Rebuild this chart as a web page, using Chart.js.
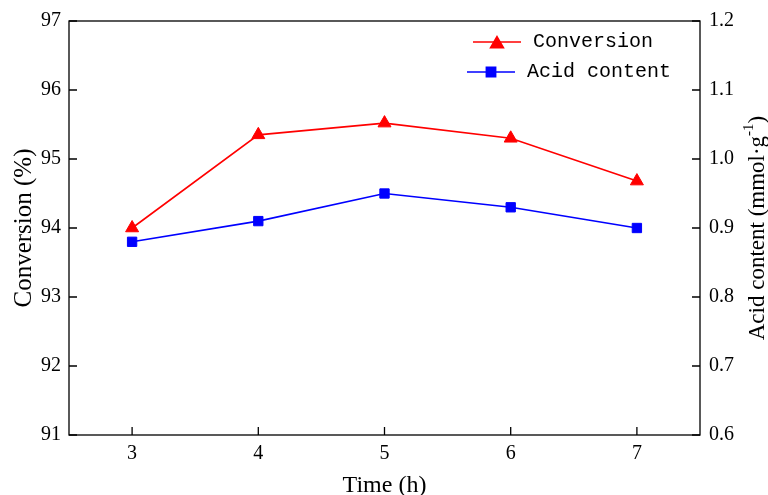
<!DOCTYPE html>
<html><head><meta charset="utf-8">
<script src="https://cdn.jsdelivr.net/npm/chart.js@4/dist/chart.umd.min.js"></script>
<style>html,body{margin:0;padding:0;background:#fff}#wrap{width:768px;height:495px;position:relative}</style>
</head><body><div id="wrap"><canvas id="c"></canvas></div>
<script>
const timeHours = [3, 4, 5, 6, 7];
const conversion = [94.0, 95.35, 95.52, 95.3, 94.68];
const acidContent = [0.88, 0.91, 0.95, 0.93, 0.90];
const xTicks = [3, 4, 5, 6, 7];
const leftTicks = [91, 92, 93, 94, 95, 96, 97];
const rightTicks = [0.6, 0.7, 0.8, 0.9, 1.0, 1.1, 1.2];
const seriesNames = ['Conversion', 'Acid content'];

const SERIF = '"Liberation Serif", "Times New Roman", serif';
const tickFont = {family: SERIF, size: 20};

const framePlugin = {
  id: 'frame',
  afterDraw(chart) {
    const ctx = chart.ctx, a = chart.chartArea;
    const sx = chart.scales.x, sl = chart.scales.y, sr = chart.scales.y1;
    ctx.save();
    ctx.strokeStyle = '#000';
    ctx.lineWidth = 1.3;
    ctx.strokeRect(a.left, a.top, a.right - a.left, a.bottom - a.top);
    const L = 8;
    ctx.beginPath();
    xTicks.forEach(v => { const p = sx.getPixelForValue(v); ctx.moveTo(p, a.bottom); ctx.lineTo(p, a.bottom - L); });
    leftTicks.forEach(v => { const p = sl.getPixelForValue(v); ctx.moveTo(a.left, p); ctx.lineTo(a.left + L, p); });
    rightTicks.forEach(v => { const p = sr.getPixelForValue(v); ctx.moveTo(a.right, p); ctx.lineTo(a.right - L, p); });
    ctx.stroke();

    // axis titles
    ctx.fillStyle = '#000';
    ctx.textAlign = 'center';
    ctx.textBaseline = 'middle';
    ctx.font = '24px ' + SERIF;
    ctx.fillText('Time (h)', (a.left + a.right) / 2, 486);
    const cy = (a.top + a.bottom) / 2;
    ctx.save();
    ctx.translate(24, cy);
    ctx.rotate(-Math.PI / 2);
    ctx.font = '25px ' + SERIF;
    ctx.fillText('Conversion (%)', 0, 0);
    ctx.restore();

    ctx.save();
    ctx.translate(758, cy);
    ctx.rotate(-Math.PI / 2);
    const main = 'Acid content (mmol\u00B7g', sup = '-1', end = ')';
    const F = '23px ' + SERIF, FS = '15px ' + SERIF;
    ctx.font = F;
    const w1 = ctx.measureText(main).width, w3 = ctx.measureText(end).width;
    ctx.font = FS;
    const w2 = ctx.measureText(sup).width;
    let x0 = -(w1 + w2 + w3) / 2;
    ctx.textAlign = 'left';
    ctx.font = F;
    ctx.fillText(main, x0, 0);
    ctx.font = FS;
    ctx.fillText(sup, x0 + w1, -9);
    ctx.font = F;
    ctx.fillText(end, x0 + w1 + w2, 0);
    ctx.restore();

    // legend
    const items = [
      {y: 42, x1: 473, x2: 521, ds: chart.data.datasets[0]},
      {y: 72, x1: 467, x2: 515, ds: chart.data.datasets[1]}
    ];
    ctx.font = '20px "Liberation Mono", "DejaVu Sans Mono", monospace';
    items.forEach(it => {
      ctx.strokeStyle = it.ds.borderColor;
      ctx.lineWidth = 1.5;
      ctx.beginPath(); ctx.moveTo(it.x1, it.y); ctx.lineTo(it.x2, it.y); ctx.stroke();
      ctx.fillStyle = it.ds.pointBackgroundColor;
      ctx.strokeStyle = it.ds.pointBorderColor;
      const my = it.ds.pointStyle === 'triangle' ? it.y + 2 : it.y;
      Chart.helpers.drawPoint(ctx, {pointStyle: it.ds.pointStyle, radius: it.ds.pointRadius, rotation: 0, borderWidth: 1}, (it.x1 + it.x2) / 2, my);
      ctx.fillStyle = '#000';
      ctx.textAlign = 'left';
      ctx.textBaseline = 'middle';
      ctx.fillText(it.ds.label, it.x2 + 12, it.y);
    });
    ctx.restore();
  }
};

new Chart(document.getElementById('c'), {
  type: 'line',
  data: {
    datasets: [
      {
        label: seriesNames[0],
        data: timeHours.map((t, i) => ({x: t, y: conversion[i]})),
        yAxisID: 'y',
        borderColor: '#ff0000', backgroundColor: '#ff0000',
        pointBackgroundColor: '#ff0000', pointBorderColor: '#ff0000',
        pointStyle: 'triangle', pointRadius: 7.5, pointBorderWidth: 1,
        borderWidth: 1.6, tension: 0
      },
      {
        label: seriesNames[1],
        data: timeHours.map((t, i) => ({x: t, y: acidContent[i]})),
        yAxisID: 'y1',
        borderColor: '#0000ff', backgroundColor: '#0000ff',
        pointBackgroundColor: '#0000ff', pointBorderColor: '#0000ff',
        pointStyle: 'rect', pointRadius: 6.6, pointBorderWidth: 1,
        borderWidth: 1.6, tension: 0
      }
    ]
  },
  options: {
    responsive: true, maintainAspectRatio: false, animation: false,
    layout: {padding: {top: 20, left: 0, right: 0, bottom: 0}},
    plugins: {legend: {display: false}, tooltip: {enabled: false}},
    scales: {
      x: {
        type: 'linear', min: 2.5, max: 7.5,
        afterBuildTicks: s => { s.ticks = xTicks.map(v => ({value: v})); },
        afterFit: s => { s.height = 60; },
        grid: {display: false, drawTicks: false}, border: {display: false},
        ticks: {font: tickFont, color: '#000', padding: 7, maxRotation: 0, callback: v => String(v)}
      },
      y: {
        position: 'left', min: 91, max: 97,
        afterBuildTicks: s => { s.ticks = leftTicks.map(v => ({value: v})); },
        afterFit: s => { s.width = 69; },
        grid: {display: false, drawTicks: false}, border: {display: false},
        ticks: {font: tickFont, color: '#000', padding: 8, callback: v => String(v)}
      },
      y1: {
        position: 'right', min: 0.6, max: 1.2,
        afterBuildTicks: s => { s.ticks = rightTicks.map(v => ({value: v})); },
        afterFit: s => { s.width = 68; },
        grid: {display: false, drawTicks: false}, border: {display: false},
        ticks: {font: tickFont, color: '#000', padding: 9, callback: v => Number(v).toFixed(1)}
      }
    }
  },
  plugins: [framePlugin]
});
</script>
</body></html>
